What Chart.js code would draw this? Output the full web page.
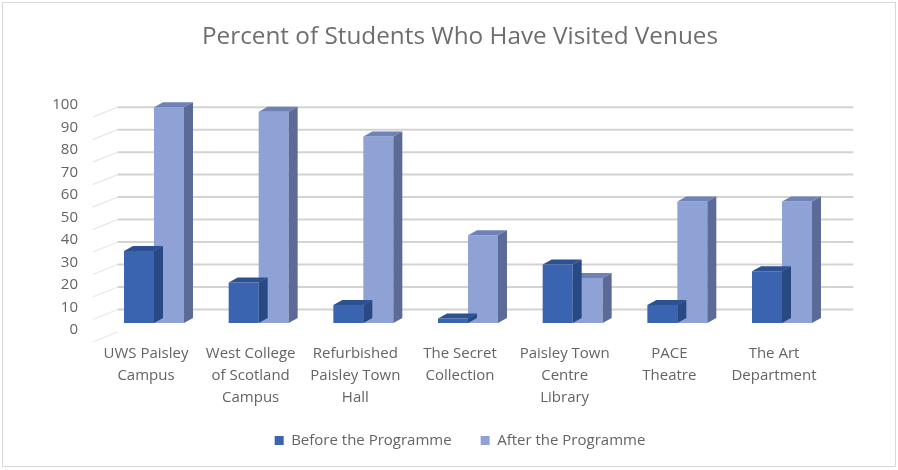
<!DOCTYPE html>
<html>
<head>
<meta charset="utf-8">
<script src="https://cdn.jsdelivr.net/npm/chart.js@4/dist/chart.umd.min.js"></script>
<style>
  html, body { margin: 0; padding: 0; background: #fff; }
  #wrap { position: relative; width: 898px; height: 470px; }
</style>
</head>
<body>
<div id="wrap"><canvas id="c" width="898" height="470"></canvas></div>
<script>
// ---- data ----
const categories = [
  ["UWS Paisley", "Campus"],
  ["West College", "of Scotland", "Campus"],
  ["Refurbished", "Paisley Town", "Hall"],
  ["The Secret", "Collection"],
  ["Paisley Town", "Centre", "Library"],
  ["PACE", "Theatre"],
  ["The Art", "Department"]
];
const seriesNames = ["Before the Programme", "After the Programme"];
const beforeValues = [32, 18, 8, 2, 26, 8, 23];
const afterValues = [96, 94, 83, 39, 20, 54, 54];
const yMin = 0, yMax = 100, yStep = 10;
const chartTitle = "Percent of Students Who Have Visited Venues";

// ---- styles ----
const FONT = "'Open Sans', 'Noto Sans', sans-serif";
const faceColors = [
  { front: '#3A64AF', top: '#2D5092', side: '#284983' },
  { front: '#8EA2D5', top: '#6F82B8', side: '#5B6A97' }
];
const DX = 9, DY = -5;
const LEGEND_SHIFT = 9;

const bar3d = {
  id: 'bar3d',
  afterLayout(chart) {
    const lg = chart.legend;
    if (lg) { lg.top -= LEGEND_SHIFT; lg.bottom -= LEGEND_SHIFT; }
  },
  beforeDraw(chart) {
    const ctx = chart.ctx;
    ctx.save();
    ctx.fillStyle = '#ffffff';
    ctx.fillRect(0, 0, chart.width, chart.height);
    ctx.strokeStyle = '#d9d9d9';
    ctx.lineWidth = 1;
    ctx.strokeRect(2.5, 2.5, chart.width - 5, chart.height - 6);
    ctx.restore();
  },
  beforeDatasetsDraw(chart) {
    const ctx = chart.ctx, ys = chart.scales.y, ca = chart.chartArea;
    ctx.save();
    for (let v = yMin; v <= yMax; v += yStep) {
      const yy = ys.getPixelForValue(v) + 9;
      // side wall diagonal
      ctx.strokeStyle = '#e8e8e8';
      ctx.lineWidth = 1.2;
      ctx.beginPath();
      ctx.moveTo(ca.left - 9, yy + 10);
      ctx.lineTo(ca.left + 16, yy);
      ctx.stroke();
      if (v > yMin) {
        ctx.strokeStyle = '#d3d3d3';
        ctx.lineWidth = 2;
        ctx.beginPath();
        ctx.moveTo(ca.left + 16, yy);
        ctx.lineTo(ca.right + 19, yy);
        ctx.stroke();
      }
    }
    ctx.restore();
  },
  afterDatasetDraw(chart, args) {
    const ctx = chart.ctx;
    const c = faceColors[args.index];
    ctx.save();
    args.meta.data.forEach(el => {
      const p = el.getProps(['x', 'y', 'base', 'width'], true);
      const l = p.x - p.width / 2, r = p.x + p.width / 2, t = p.y, b = p.base;
      ctx.fillStyle = c.top;
      ctx.beginPath();
      ctx.moveTo(l, t);
      ctx.lineTo(l + DX, t + DY);
      ctx.lineTo(r + DX, t + DY);
      ctx.lineTo(r, t);
      ctx.closePath();
      ctx.fill();
      ctx.fillStyle = c.side;
      ctx.beginPath();
      ctx.moveTo(r, t);
      ctx.lineTo(r + DX, t + DY);
      ctx.lineTo(r + DX, b + DY);
      ctx.lineTo(r, b);
      ctx.closePath();
      ctx.fill();
    });
    ctx.restore();
  }
};

new Chart(document.getElementById('c'), {
  type: 'bar',
  data: {
    labels: categories,
    datasets: [
      { label: seriesNames[0], data: beforeValues, backgroundColor: faceColors[0].front, borderWidth: 0, clip: false },
      { label: seriesNames[1], data: afterValues, backgroundColor: faceColors[1].front, borderWidth: 0, clip: false }
    ]
  },
  options: {
    responsive: false,
    animation: false,
    devicePixelRatio: 1,
    layout: { padding: { left: 22, right: 0, top: 0, bottom: 3 } },
    datasets: { bar: { categoryPercentage: 0.573, barPercentage: 1.0 } },
    plugins: {
      title: {
        display: true,
        text: chartTitle,
        color: '#6e6e6e',
        font: { family: FONT, size: 24.3, weight: 'normal', lineHeight: 1.2 },
        padding: { top: 22.4, bottom: 46.6 }
      },
      legend: {
        position: 'bottom',
        labels: {
          boxWidth: 9, boxHeight: 9, padding: 29,
          color: '#646464',
          font: { family: FONT, size: 15 }
        }
      },
      tooltip: { enabled: false }
    },
    scales: {
      x: {
        grid: { display: false, drawTicks: false },
        border: { display: false },
        ticks: {
          color: '#646464',
          font: { family: FONT, size: 15, lineHeight: 1.447 },
          padding: 20,
          labelOffset: -8,
          autoSkip: false,
          maxRotation: 0
        },
        afterFit(s) { s.height = 90; }
      },
      y: {
        min: yMin, max: yMax,
        grid: { display: false, drawTicks: false },
        border: { display: false },
        ticks: {
          stepSize: yStep,
          color: '#646464',
          font: { family: FONT, size: 15 },
          padding: 23.7,
          labelOffset: 7
        },
        afterFit(s) { s.width = 79.67; }
      },
      yRight: {
        type: 'linear',
        position: 'right',
        display: true,
        grid: { display: false, drawTicks: false },
        border: { display: false },
        ticks: { display: false },
        afterFit(s) { s.width = 63.67; }
      }
    }
  },
  plugins: [bar3d]
});
</script>
</body>
</html>
